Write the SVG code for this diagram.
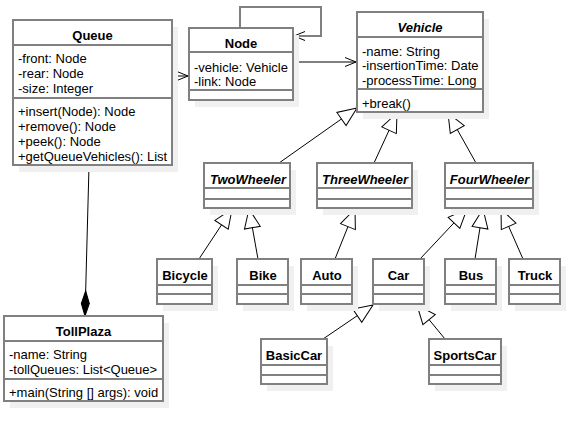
<svg xmlns="http://www.w3.org/2000/svg" xmlns:xlink="http://www.w3.org/1999/xlink" width="567" height="423" viewBox="0 0 567 423">
<style>
.sh{fill:#f0f0f0;stroke:none}
.bx{fill:#ffffff;stroke:#808080;stroke-width:2}
.sp{stroke:#808080;stroke-width:2;fill:none}
.t{font-family:"Liberation Sans",Arial,sans-serif;font-size:13px;fill:#000}
.b{font-weight:bold}
.i{font-style:italic;font-weight:bold}
.c{text-anchor:middle}
.ln{stroke:#000;stroke-width:1;fill:none}
.tri{fill:#fff;stroke:#000;stroke-width:1}
.opn{fill:none;stroke:#000;stroke-width:1}
.dia{fill:#000;stroke:#000;stroke-width:1}
</style>
<defs>
<path id="tri" class="tri" d="M0,0 L-19,-8 L-19,8 Z"/>
<path id="opn" class="opn" d="M-11,-4.5 L0,0 L-11,4.5"/>
<path id="dia" class="dia" d="M0,0 L-12.5,-4 L-25,0 L-12.5,4 Z"/>
</defs>

<g id="connectors">
<line class="ln" x1="172" y1="76" x2="188" y2="76"/>
<use href="#opn" xlink:href="#opn" transform="translate(188,76)"/>
<line class="ln" x1="294" y1="62" x2="356" y2="62"/>
<use href="#opn" xlink:href="#opn" transform="translate(356,62)"/>
<polyline points="240,28 240,7 321,7 321,36 294,36" fill="none" stroke="#808080" stroke-width="2"/>
<use href="#opn" xlink:href="#opn" transform="translate(294,36) rotate(180)"/>
<line class="ln" x1="89" y1="166" x2="85" y2="316"/>
<use href="#dia" xlink:href="#dia" transform="translate(85,316) rotate(91.5)"/>
<line class="ln" x1="279" y1="163" x2="357" y2="108"/>
<use href="#tri" xlink:href="#tri" transform="translate(357,108) rotate(-35.2)"/>
<line class="ln" x1="374" y1="163" x2="397" y2="113"/>
<use href="#tri" xlink:href="#tri" transform="translate(397,113) rotate(-65.3)"/>
<line class="ln" x1="476" y1="163" x2="448" y2="113"/>
<use href="#tri" xlink:href="#tri" transform="translate(448,113) rotate(-119.25)"/>
<line class="ln" x1="199" y1="259" x2="232" y2="209"/>
<use href="#tri" xlink:href="#tri" transform="translate(232,209) rotate(-56.6)"/>
<line class="ln" x1="258" y1="259" x2="249" y2="209"/>
<use href="#tri" xlink:href="#tri" transform="translate(249,209) rotate(-100.2)"/>
<line class="ln" x1="335" y1="259" x2="355" y2="209"/>
<use href="#tri" xlink:href="#tri" transform="translate(355,209) rotate(-68.2)"/>
<line class="ln" x1="420" y1="259" x2="467" y2="209"/>
<use href="#tri" xlink:href="#tri" transform="translate(467,209) rotate(-46.8)"/>
<line class="ln" x1="475" y1="259" x2="483" y2="209"/>
<use href="#tri" xlink:href="#tri" transform="translate(483,209) rotate(-80.9)"/>
<line class="ln" x1="523" y1="259" x2="501" y2="209"/>
<use href="#tri" xlink:href="#tri" transform="translate(501,209) rotate(-113.75)"/>
<line class="ln" x1="323" y1="339" x2="373" y2="305"/>
<use href="#tri" xlink:href="#tri" transform="translate(373,305) rotate(-34.2)"/>
<line class="ln" x1="445" y1="339" x2="417" y2="305"/>
<use href="#tri" xlink:href="#tri" transform="translate(417,305) rotate(-129.5)"/>
</g>

<g id="queue">
<rect class="sh" x="19" y="27" width="159" height="145"/>
<rect class="bx" x="13" y="20" width="159" height="145"/>
<line class="sp" x1="13" y1="45" x2="172" y2="45"/>
<line class="sp" x1="13" y1="98" x2="172" y2="98"/>
<text class="t b c" x="92.5" y="40">Queue</text>
<text class="t" x="18" y="62.5">-front: Node</text>
<text class="t" x="18" y="77.5">-rear: Node</text>
<text class="t" x="18" y="92.5">-size: Integer</text>
<text class="t" x="18" y="115.5">+insert(Node): Node</text>
<text class="t" x="18" y="130.5">+remove(): Node</text>
<text class="t" x="18" y="145.5">+peek(): Node</text>
<text class="t" x="18" y="160.5">+getQueueVehicles(): List</text>
</g>

<g id="node">
<rect class="sh" x="195" y="35" width="104" height="72"/>
<rect class="bx" x="189" y="28" width="104" height="72"/>
<line class="sp" x1="189" y1="52" x2="293" y2="52"/>
<line class="sp" x1="189" y1="90" x2="293" y2="90"/>
<text class="t b c" x="241" y="47.5">Node</text>
<text class="t" x="194" y="71.5">-vehicle: Vehicle</text>
<text class="t" x="194" y="85.5">-link: Node</text>
</g>

<g id="vehicle">
<rect class="sh" x="363" y="19" width="126" height="100"/>
<rect class="bx" x="357" y="12" width="126" height="100"/>
<line class="sp" x1="357" y1="37" x2="483" y2="37"/>
<line class="sp" x1="357" y1="89" x2="483" y2="89"/>
<text class="t i c" x="420" y="31.5">Vehicle</text>
<text class="t" x="362" y="55.5">-name: String</text>
<text class="t" x="362" y="70">-insertionTime: Date</text>
<text class="t" x="362" y="84.5">-processTime: Long</text>
<text class="t" x="362" y="107.5">+break()</text>
</g>

<g id="twowheeler">
<rect class="sh" x="210" y="170" width="86" height="45"/>
<rect class="bx" x="204" y="163" width="86" height="45"/>
<line class="sp" x1="204" y1="188" x2="290" y2="188"/>
<line class="sp" x1="204" y1="199" x2="290" y2="199"/>
<text class="t i c" x="248" y="183.5">TwoWheeler</text>
</g>

<g id="threewheeler">
<rect class="sh" x="323" y="170" width="95" height="45"/>
<rect class="bx" x="317" y="163" width="95" height="45"/>
<line class="sp" x1="317" y1="188" x2="412" y2="188"/>
<line class="sp" x1="317" y1="199" x2="412" y2="199"/>
<text class="t i c" x="365" y="183.5">ThreeWheeler</text>
</g>

<g id="fourwheeler">
<rect class="sh" x="451" y="170" width="88" height="45"/>
<rect class="bx" x="445" y="163" width="88" height="45"/>
<line class="sp" x1="445" y1="188" x2="533" y2="188"/>
<line class="sp" x1="445" y1="199" x2="533" y2="199"/>
<text class="t i c" x="489.5" y="183.5">FourWheeler</text>
</g>

<g id="bicycle">
<rect class="sh" x="163" y="266" width="55" height="45"/>
<rect class="bx" x="157" y="259" width="55" height="45"/>
<line class="sp" x1="157" y1="285" x2="212" y2="285"/>
<line class="sp" x1="157" y1="294" x2="212" y2="294"/>
<text class="t b c" x="185" y="279.5">Bicycle</text>
</g>

<g id="bike">
<rect class="sh" x="243" y="266" width="51" height="45"/>
<rect class="bx" x="237" y="259" width="51" height="45"/>
<line class="sp" x1="237" y1="285" x2="288" y2="285"/>
<line class="sp" x1="237" y1="294" x2="288" y2="294"/>
<text class="t b c" x="263" y="279.5">Bike</text>
</g>

<g id="auto">
<rect class="sh" x="307" y="266" width="51" height="45"/>
<rect class="bx" x="301" y="259" width="51" height="45"/>
<line class="sp" x1="301" y1="285" x2="352" y2="285"/>
<line class="sp" x1="301" y1="294" x2="352" y2="294"/>
<text class="t b c" x="327" y="279.5">Auto</text>
</g>

<g id="car">
<rect class="sh" x="379" y="266" width="51" height="45"/>
<rect class="bx" x="373" y="259" width="51" height="45"/>
<line class="sp" x1="373" y1="285" x2="424" y2="285"/>
<line class="sp" x1="373" y1="294" x2="424" y2="294"/>
<text class="t b c" x="398.5" y="279.5">Car</text>
</g>

<g id="bus">
<rect class="sh" x="451" y="266" width="51" height="45"/>
<rect class="bx" x="445" y="259" width="51" height="45"/>
<line class="sp" x1="445" y1="285" x2="496" y2="285"/>
<line class="sp" x1="445" y1="294" x2="496" y2="294"/>
<text class="t b c" x="471" y="279.5">Bus</text>
</g>

<g id="truck">
<rect class="sh" x="515" y="266" width="51" height="45"/>
<rect class="bx" x="509" y="259" width="51" height="45"/>
<line class="sp" x1="509" y1="285" x2="560" y2="285"/>
<line class="sp" x1="509" y1="294" x2="560" y2="294"/>
<text class="t b c" x="535" y="279.5">Truck</text>
</g>

<g id="basiccar">
<rect class="sh" x="267" y="346" width="66" height="45"/>
<rect class="bx" x="261" y="339" width="66" height="45"/>
<line class="sp" x1="261" y1="365" x2="327" y2="365"/>
<line class="sp" x1="261" y1="375" x2="327" y2="375"/>
<text class="t b c" x="294" y="359.5">BasicCar</text>
</g>

<g id="sportscar">
<rect class="sh" x="435" y="346" width="72" height="45"/>
<rect class="bx" x="429" y="339" width="72" height="45"/>
<line class="sp" x1="429" y1="365" x2="501" y2="365"/>
<line class="sp" x1="429" y1="375" x2="501" y2="375"/>
<text class="t b c" x="465" y="359.5">SportsCar</text>
</g>

<g id="tollplaza">
<rect class="sh" x="10" y="323" width="159" height="85"/>
<rect class="bx" x="4" y="316" width="159" height="85"/>
<line class="sp" x1="4" y1="341" x2="163" y2="341"/>
<line class="sp" x1="4" y1="379" x2="163" y2="379"/>
<text class="t b c" x="83.5" y="335.5">TollPlaza</text>
<text class="t" x="9" y="358.5">-name: String</text>
<text class="t" x="9" y="373.5">-tollQueues: List&lt;Queue&gt;</text>
<text class="t" x="9" y="396.5">+main(String [] args): void</text>
</g>
</svg>
